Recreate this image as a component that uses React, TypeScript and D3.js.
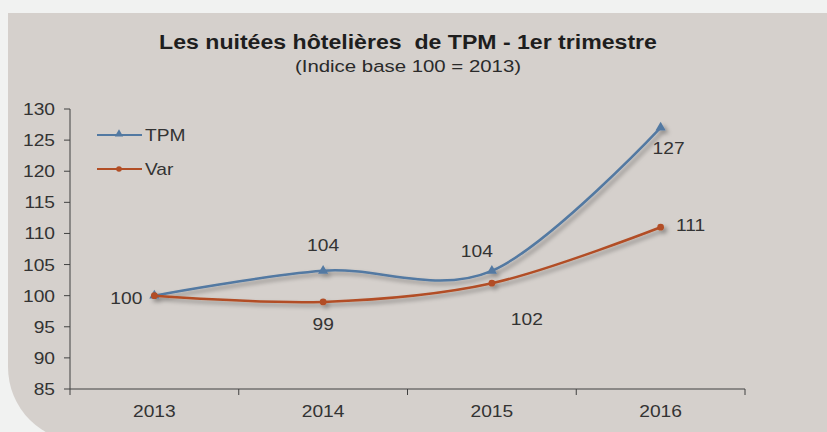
import React from 'react';
import * as d3 from 'd3';

const years = ['2013', '2014', '2015', '2016'];
const tpmValues = [100, 104, 104, 127];
const varValues = [100, 99, 102, 111];
const yTicks = [85, 90, 95, 100, 105, 110, 115, 120, 125, 130];
// label offsets relative to the point (dx, dy)
const tpmLabelOffsets: [number, number][] = [[-28, 8], [0, -20], [-15, -14], [8, 26]];
const varLabelOffsets: [number, number][] = [[-28, 8], [0, 28], [35, 42], [30, 4]];

const W = 827;
const H = 432;
const blue = '#5279a2';
const rust = '#b24e25';
const font = '"Liberation Sans", Arial, sans-serif';

// text slightly stretched horizontally, like the original export
const T = (p: {
  x: number;
  y: number;
  size?: number;
  sx?: number;
  anchor?: string;
  bold?: boolean;
  fill?: string;
  children: React.ReactNode;
}) => (
  <text
    transform={`translate(${p.x},${p.y}) scale(${p.sx ?? 1.2},1)`}
    textAnchor={p.anchor ?? 'middle'}
    fontSize={p.size ?? 16}
    fontWeight={p.bold ? 'bold' : 'normal'}
    fill={p.fill ?? '#333'}
    style={{ whiteSpace: 'pre' }}
  >
    {p.children}
  </text>
);

export default function App() {
  const x = d3.scaleBand<string>().domain(years).range([70, 745]);
  const y = d3.scaleLinear().domain([85, 130]).range([389, 109]);
  const cx = (i: number) => (x(years[i]) as number) + x.bandwidth() / 2;

  const line = d3
    .line<number>()
    .x((_, i) => cx(i))
    .y((d) => y(d))
    .curve(d3.curveCardinal.tension(0));

  const tri = d3.symbol().type(d3.symbolTriangle).size(45)();
  const dot = d3.symbol().type(d3.symbolCircle).size(36)();

  return (
    <svg
      width={W}
      height={H}
      style={{ position: 'absolute', left: 0, top: 0, fontFamily: font }}
    >
      <defs>
        <filter id="shadow" x="-10%" y="-20%" width="130%" height="150%">
          <feDropShadow dx="3" dy="3" stdDeviation="2" floodColor="#000" floodOpacity="0.35" />
        </filter>
      </defs>
      <rect x={0} y={0} width={W} height={H} fill="#f1f2f1" />
      <path
        d={`M8,13 H${W} V442 H83 A75,75 0 0 1 8,367 Z`}
        fill="#d5d0cc"
      />
      <T x={408} y={49} size={21} sx={1.1} bold fill="#1e1e1e">
        {'Les nuitées hôtelières  de TPM - 1er trimestre'}
      </T>
      <T x={408} y={72} size={17} sx={1.2} fill="#2a2a2a">
        (Indice base 100 = 2013)
      </T>

      {/* y axis */}
      <line x1={70} x2={70} y1={109} y2={389} stroke="#404040" />
      {yTicks.map((t) => (
        <g key={t}>
          <line x1={64} x2={70} y1={y(t)} y2={y(t)} stroke="#404040" />
          <T x={55} y={y(t) + 6} anchor="end">
            {t}
          </T>
        </g>
      ))}

      {/* x axis */}
      <line x1={70} x2={745} y1={389} y2={389} stroke="#404040" />
      {years.map((yr, i) => (
        <g key={yr}>
          <line x1={x(yr)!} x2={x(yr)!} y1={389} y2={395} stroke="#404040" />
          <T x={cx(i)} y={417}>
            {yr}
          </T>
        </g>
      ))}
      <line x1={745} x2={745} y1={389} y2={395} stroke="#404040" />

      {/* series */}
      <g filter="url(#shadow)">
        <path d={line(tpmValues) || ''} fill="none" stroke={blue} strokeWidth={2.5} />
        {tpmValues.map((v, i) => (
          <path key={i} d={tri || ''} transform={`translate(${cx(i)},${y(v)})`} fill={blue} />
        ))}
        <path d={line(varValues) || ''} fill="none" stroke={rust} strokeWidth={2.5} />
        {varValues.map((v, i) => (
          <path key={i} d={dot || ''} transform={`translate(${cx(i)},${y(v)})`} fill={rust} />
        ))}
      </g>

      {/* data labels */}
      {tpmValues.map((v, i) =>
        i === 0 ? null : (
          <T key={'t' + i} x={cx(i) + tpmLabelOffsets[i][0]} y={y(v) + tpmLabelOffsets[i][1]}>
            {v}
          </T>
        )
      )}
      {varValues.map((v, i) => (
        <T key={'v' + i} x={cx(i) + varLabelOffsets[i][0]} y={y(v) + varLabelOffsets[i][1]}>
          {v}
        </T>
      ))}

      {/* legend */}
      <line x1={97} x2={142} y1={135} y2={135} stroke={blue} strokeWidth={2} />
      <path d={d3.symbol().type(d3.symbolTriangle).size(30)() || ''} transform="translate(119,134)" fill={blue} />
      <T x={145} y={141} anchor="start">TPM</T>
      <line x1={97} x2={142} y1={169} y2={169} stroke={rust} strokeWidth={2} />
      <circle cx={119} cy={169} r={2.8} fill={rust} />
      <T x={145} y={175} anchor="start">Var</T>
    </svg>
  );
}
